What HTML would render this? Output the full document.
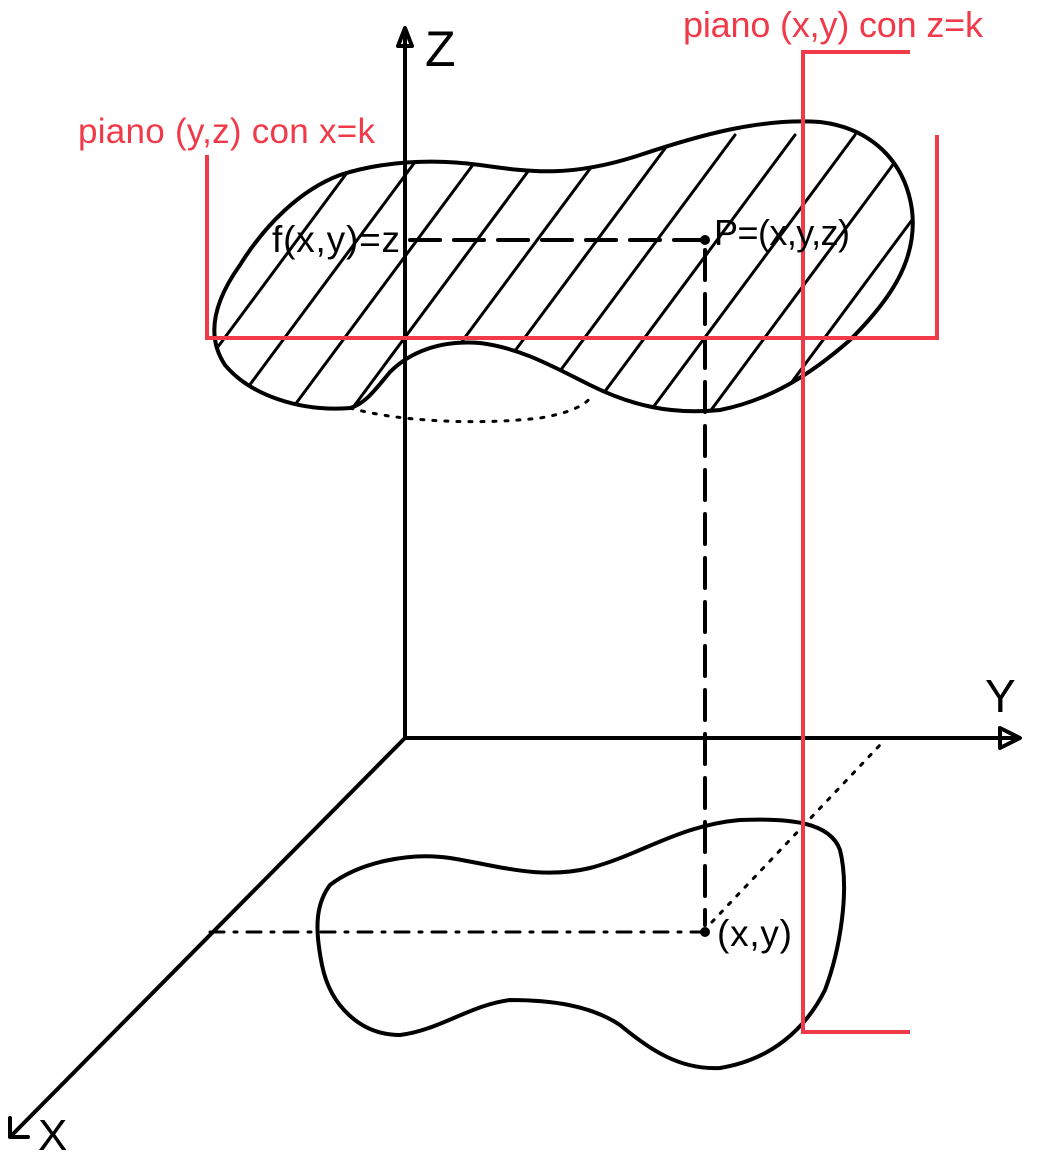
<!DOCTYPE html>
<html><head><meta charset="utf-8"><style>
html,body{margin:0;padding:0;background:#fff;}
svg{display:block;}
text{font-family:"Liberation Sans",sans-serif;}
</style></head><body>
<svg width="1039" height="1155" viewBox="0 0 1039 1155">
<defs>
<clipPath id="blobclip"><path d="M350,408 C300,412 250,395 225,365 C205,335 215,300 240,265 C265,225 300,190 340,175 C380,162 430,158 480,165 C530,172 570,178 640,155 C700,135 760,118 820,122 C870,128 905,160 912,210 C918,260 890,300 850,340 C810,375 770,400 720,410 C670,415 630,405 590,385 C550,365 520,348 480,343 C440,340 410,352 390,372 C375,390 365,404 350,408 Z"/></clipPath>
</defs>
<g fill="none" stroke="#000" stroke-width="4" stroke-linecap="round" stroke-linejoin="round">
<line x1="405" y1="30" x2="405" y2="738"/>
<path d="M398,46 L405,28 L412,46 Z"/>
<line x1="405" y1="738" x2="1015" y2="738"/>
<path d="M1000,728 L1020,738 L1000,748 Z"/>
<line x1="405" y1="738" x2="12" y2="1135"/>
<path d="M10,1118 L10,1137 L28,1137"/>
<path d="M350,408 C300,412 250,395 225,365 C205,335 215,300 240,265 C265,225 300,190 340,175 C380,162 430,158 480,165 C530,172 570,178 640,155 C700,135 760,118 820,122 C870,128 905,160 912,210 C918,260 890,300 850,340 C810,375 770,400 720,410 C670,415 630,405 590,385 C550,365 520,348 480,343 C440,340 410,352 390,372 C375,390 365,404 350,408 Z"/>
<g clip-path="url(#blobclip)" stroke-width="3" id="hatch"></g>
<path d="M350,408 C400,422 480,425 540,418 C570,413 585,405 590,398" stroke-width="3" stroke-dasharray="3 9"/>
<line x1="410" y1="240" x2="705" y2="240" stroke-dasharray="30 14"/>
<line x1="705" y1="250" x2="705" y2="925" stroke-dasharray="30 14"/>
<path d="M330,885 C360,862 410,852 450,858 C500,866 540,880 590,868 C640,855 680,825 740,820 C790,818 830,822 840,850 C850,890 840,950 825,990 C805,1030 770,1060 720,1068 C680,1070 650,1050 620,1025 C590,1005 550,1000 510,1000 C470,1005 440,1030 400,1035 C360,1035 330,1005 322,965 C315,930 315,905 330,885 Z"/>
<line x1="210" y1="932" x2="700" y2="932" stroke-width="3" stroke-dasharray="14 10 3 10"/>
<line x1="712" y1="922" x2="880" y2="745" stroke-width="3" stroke-dasharray="3 9"/>
</g>
<circle cx="705" cy="240" r="5" fill="#000"/>
<circle cx="705" cy="932" r="5" fill="#000"/>
<g fill="none" stroke="#f03a4a" stroke-width="4">
<path d="M207,155 L207,338 L937,338 L937,135"/>
<path d="M910,52 L803,52 L803,1032 L910,1032"/>
</g>
<text x="425" y="66" font-size="50">Z</text>
<text x="985" y="712" font-size="46">Y</text>
<text x="38" y="1150" font-size="44">X</text>
<text x="272" y="252" font-size="37" textLength="128">f(x,y)=z</text>
<text x="714" y="245" font-size="36" textLength="136">P=(x,y,z)</text>
<text x="717" y="946" font-size="37" textLength="75">(x,y)</text>
<text x="78" y="143" font-size="35" fill="#f03a4a" textLength="297">piano (y,z) con x=k</text>
<text x="683" y="37" font-size="36" fill="#f03a4a" textLength="300">piano (x,y) con z=k</text>
</svg>
<script>
var g=document.getElementById('hatch');
for(var i=0;i<14;i++){
  var x0=160+i*60;
  var l=document.createElementNS('http://www.w3.org/2000/svg','line');
  l.setAttribute('x1',x0);l.setAttribute('y1',425);
  l.setAttribute('x2',x0+215);l.setAttribute('y2',135);
  
  
  g.appendChild(l);
}
</script>
</body></html>
